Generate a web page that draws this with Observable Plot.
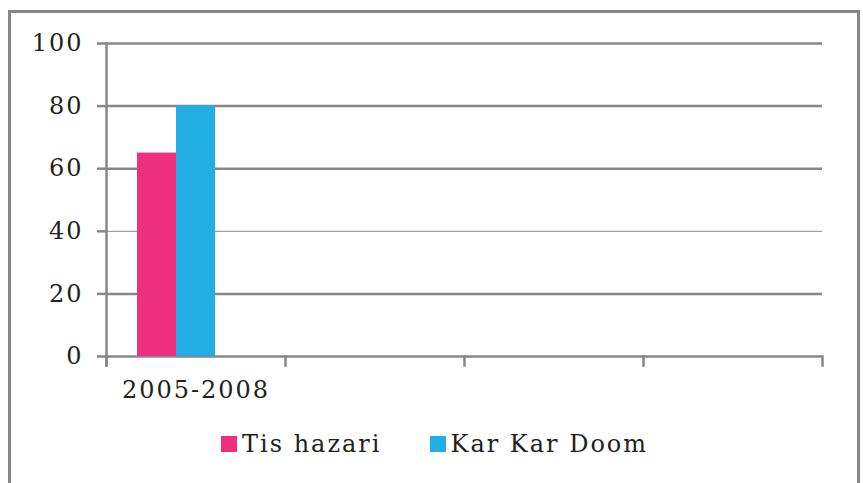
<!DOCTYPE html>
<html><head><meta charset="utf-8">
<script src="https://cdn.jsdelivr.net/npm/d3@7"></script>
<script src="https://cdn.jsdelivr.net/npm/@observablehq/plot@0.6"></script>
<style>
html,body{margin:0;padding:0;background:#fff;overflow:hidden;}
#wrap{position:relative;width:863px;height:483px;}
#box{position:absolute;left:8px;top:10px;width:852px;height:500px;border:3px solid #878787;box-sizing:border-box;}
#chart{position:absolute;left:0;top:0;}
#legend{position:absolute;left:221px;top:430px;display:flex;align-items:center;gap:48px;font-family:"DejaVu Serif",serif;font-size:24px;letter-spacing:2px;color:#231f20;}
#legend .item{display:flex;align-items:center;}
#legend .sw{width:16px;height:16px;margin-right:5px;}
</style></head><body>
<div id="wrap"><div id="box"></div><div id="chart"></div><div id="legend"></div></div>
<script>
const periods = ["2005-2008", " ", "  ", "   "];
const series = ["Tis hazari", "Kar Kar Doom"];
const tisHazari = [65, null, null, null];
const karKarDoom = [80, null, null, null];
const colors = ["#EE2F7B", "#22AEE4"];
const yTicks = [0, 20, 40, 60, 80, 100];

const seriesValues = [tisHazari, karKarDoom];
const data = periods.flatMap((p, j) => series.map((s, i) => ({period: p, series: s, value: seriesValues[i][j]})));

const W = 863, H = 410, mL = 105, mR = 40, mT = 43, mB = 54;
const grey = "#878787";
const chart = Plot.plot({
  width: W, height: H,
  marginLeft: mL, marginRight: mR, marginTop: mT, marginBottom: mB,
  style: {fontFamily: "DejaVu Serif", fontSize: "24px", letterSpacing: "2px", background: "transparent", color: "#231f20"},
  facet: {data, x: "period"},
  fx: {domain: periods, padding: 0, label: null},
  x: {domain: [...series, "_"], paddingInner: 0, paddingOuter: 0.78, axis: null},
  y: {domain: [0, 100]},
  color: {domain: series, range: colors},
  marks: [
    Plot.ruleY(yTicks, {stroke: grey, strokeWidth: d => d === 40 ? 1 : 2.5}),
    Plot.barY(data, {x: "series", y: "value", fill: "series"}),
    Plot.axisY({ticks: yTicks, tickSize: 9, tickPadding: 14, stroke: grey, strokeWidth: 2.5, fill: "#231f20", label: null, fontSize: 24}),
    Plot.axisFx({anchor: "bottom", tickSize: 0, tickPadding: 24, label: null, fontSize: 24, fill: "#231f20"}),
    Plot.frame({anchor: "left", facetAnchor: "left", insetBottom: -9, stroke: grey, strokeWidth: 2.5}),
    Plot.frame({anchor: "left", insetTop: H - mT - mB, insetBottom: -9, stroke: grey, strokeWidth: 2.5}),
    Plot.frame({anchor: "right", facetAnchor: "right", insetTop: H - mT - mB, insetBottom: -9, stroke: grey, strokeWidth: 2.5})
  ]
});
document.getElementById("chart").appendChild(chart);

const legend = document.getElementById("legend");
series.forEach((s, i) => {
  const item = document.createElement("div");
  item.className = "item";
  const sw = document.createElement("div");
  sw.className = "sw";
  sw.style.background = colors[i];
  const t = document.createElement("span");
  t.textContent = s;
  item.appendChild(sw);
  item.appendChild(t);
  legend.appendChild(item);
});
</script>
</body></html>
